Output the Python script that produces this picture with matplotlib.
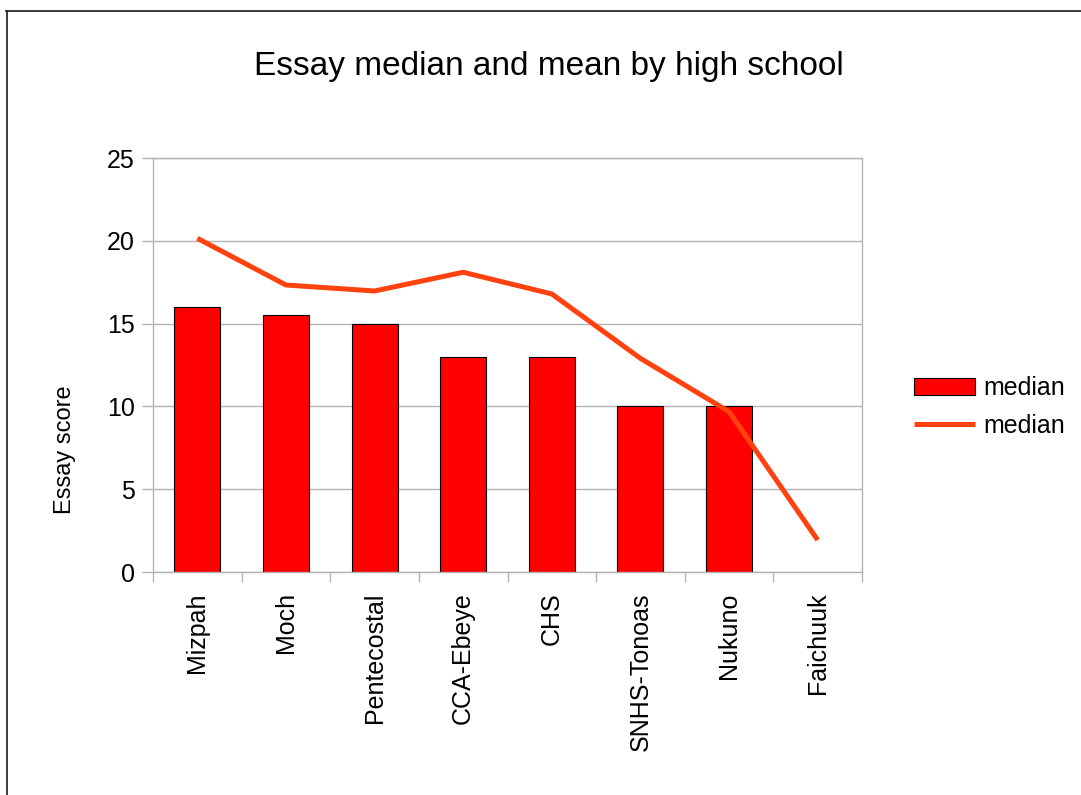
import numpy as np
import matplotlib
matplotlib.use("Agg")
import matplotlib.pyplot as plt
from matplotlib.lines import Line2D

plt.rcParams['font.family'] = ['Liberation Sans', 'DejaVu Sans']

schools = ["Mizpah", "Moch", "Pentecostal", "CCA-Ebeye", "CHS", "SNHS-Tonoas", "Nukuno", "Faichuuk"]
median_bar = [16, 15.5, 15, 13, 13, 10, 10, np.nan]
median_line = [20.15, 17.33, 16.97, 18.1, 16.79, 12.9, 9.68, 1.93]
y_ticks = [0, 5, 10, 15, 20, 25]
title = "Essay median and mean by high school"
ylabel = "Essay score"
legend_labels = ["median", "median"]

W, H = 1081, 795
fig = plt.figure(figsize=(W / 100, H / 100), dpi=100)
ax = fig.add_axes([153 / W, 1 - 572 / H, (862 - 153) / W, (572 - 158) / H])

x = np.arange(len(schools))
bh = np.array(median_bar, dtype=float)
mask = ~np.isnan(bh)
bars = ax.bar(x[mask], bh[mask], width=0.52, color="#ff0000", edgecolor="#000000",
              linewidth=0.8, zorder=2, label=legend_labels[0])
line, = ax.plot(x, median_line, color="#ff420e", linewidth=3.6, zorder=3,
                solid_capstyle="butt", label=legend_labels[1])

ax.set_xlim(-0.5, len(schools) - 0.5)
ax.set_ylim(0, 25)
ax.set_yticks(y_ticks)
ax.set_yticklabels([str(v) for v in y_ticks])
ax.yaxis.grid(True, color="#b3b3b3", linewidth=1.0, zorder=0)
ax.set_axisbelow(True)

ax.set_xticks(x)
ax.set_xticklabels(schools, rotation=90, va="top", ha="center")
ax.set_xticks(np.arange(len(schools) + 1) - 0.5, minor=True)
ax.tick_params(axis="x", which="major", length=0, pad=14.5, labelsize=18)
ax.tick_params(axis="x", which="minor", length=7.5, color="#b3b3b3", width=1.0)
ax.tick_params(axis="y", which="major", length=8, color="#b3b3b3", width=1.0, pad=5, labelsize=18)

for s in ax.spines.values():
    s.set_color("#b3b3b3")
    s.set_linewidth(1.0)

fig.text(549 / W, 1 - 67 / H, title, fontsize=24, ha="center", va="center")
fig.text(65 / W, 1 - 450 / H, ylabel, fontsize=17, rotation=90, ha="center", va="center")

leg = fig.legend(handles=[bars, line], labels=legend_labels, loc="center left",
                 bbox_to_anchor=(914 / W, 1 - 407 / H), frameon=False, fontsize=18,
                 borderpad=0, borderaxespad=0, handlelength=2.45, handleheight=0.65,
                 handletextpad=0.32, labelspacing=0.55)

fig.add_artist(Line2D([6 / W, 1], [1 - 10.5 / H, 1 - 10.5 / H], transform=fig.transFigure,
                      color="#1a1a1a", linewidth=1.2))
fig.add_artist(Line2D([6.5 / W, 6.5 / W], [0, 1 - 10.5 / H], transform=fig.transFigure,
                      color="#1a1a1a", linewidth=1.2))

fig.savefig("out.png", dpi=100)
